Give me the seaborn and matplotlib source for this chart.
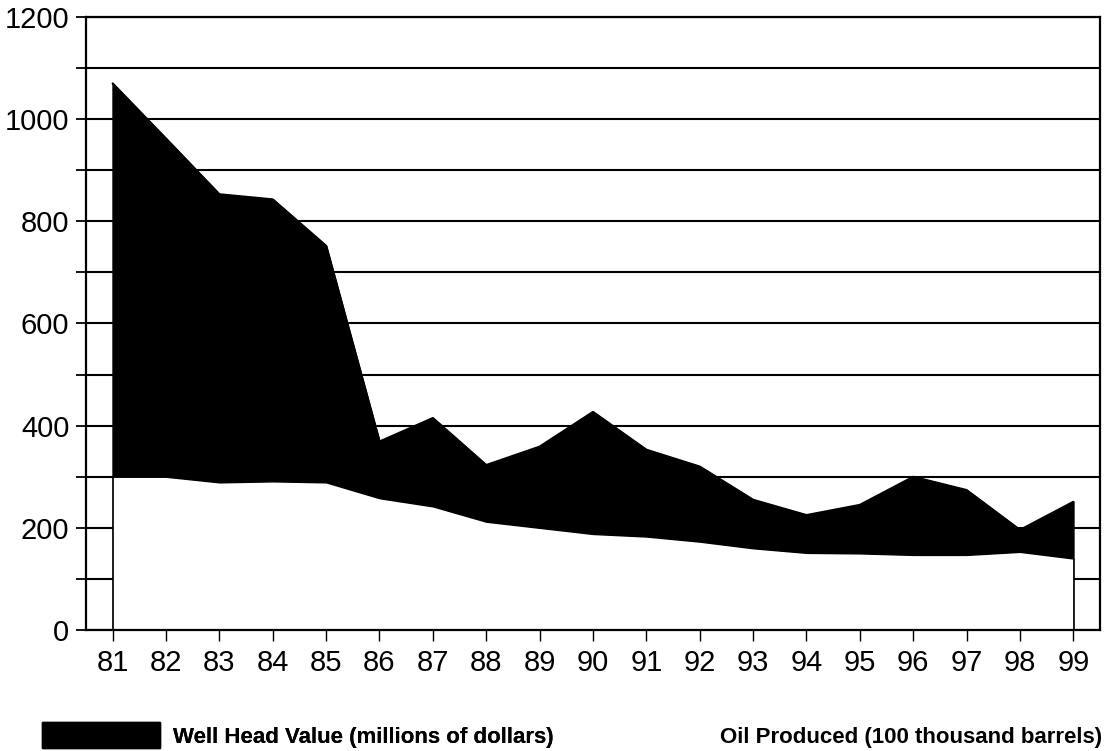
import matplotlib
matplotlib.use("Agg")
import matplotlib.pyplot as plt
from matplotlib.patches import Patch
from matplotlib.ticker import MultipleLocator
import numpy as np
import pandas as pd
import seaborn as sns

years = [81, 82, 83, 84, 85, 86, 87, 88, 89, 90, 91, 92, 93, 94, 95, 96, 97, 98, 99]
well_head = [1070, 962, 853, 843, 752, 369, 415, 323, 359, 427,
             353, 320, 255, 225, 245, 300, 274, 196, 251]
oil_produced = [300, 300, 289, 291, 289, 258, 242, 212, 200, 188,
                183, 173, 160, 151, 150, 147, 147, 153, 140]
year_labels = [str(y) for y in years]

well_label = "Well Head Value (millions of dollars)"
oil_label = "Oil Produced (100 thousand barrels)"

df = pd.DataFrame({"year": years, "well": well_head, "oil": oil_produced})

sns.set_style("white")
plt.rcParams["font.family"] = ["Liberation Sans", "DejaVu Sans"]
plt.rcParams["text.color"] = "black"

fig = plt.figure(figsize=(11.09, 7.51), dpi=100)
ax = fig.add_axes([0.0775, 0.1611, 0.9144, 0.8163])

# areas: black well head value, white oil production drawn on top of it
ax.fill_between(df["year"], 0, df["well"], facecolor="black", edgecolor="black", lw=1.2, zorder=1)
ax.fill_between(df["year"], 0, df["oil"], facecolor="white", edgecolor="black", lw=1.0, zorder=1.2)
sns.lineplot(data=df, x="year", y="well", color="black", lw=1.5, ax=ax, zorder=1.5)

ax.set_xlim(80.5, 99.5)
ax.set_ylim(0, 1200)
ax.set_xticks(years)
ax.set_xticklabels(year_labels)
ax.yaxis.set_major_locator(MultipleLocator(200))
ax.yaxis.set_minor_locator(MultipleLocator(100))
ax.set_xlabel("")
ax.set_ylabel("")

ax.set_axisbelow(True)
ax.grid(axis="y", which="both", color="black", lw=1.5)
ax.grid(axis="x", visible=False)

for s in ax.spines.values():
    s.set_visible(True)
    s.set_color("black")
    s.set_linewidth(1.6)

ax.tick_params(axis="y", which="both", direction="out", length=7, width=1.3,
               left=True, labelsize=21, pad=5, colors="black")
ax.tick_params(axis="x", which="major", direction="out", length=8, width=1.0,
               bottom=True, labelsize=21, pad=6, colors="black")

leg_props = {"weight": "bold", "size": 16}
leg1 = fig.legend(handles=[Patch(facecolor="black", edgecolor="black", label=well_label)],
                  loc="center left", bbox_to_anchor=(42 / 1109, 0.021), frameon=False,
                  prop=leg_props, handlelength=5.3, handleheight=1.45, handletextpad=0.6,
                  borderpad=0, borderaxespad=0, labelcolor="black")
leg2 = fig.legend(handles=[Patch(facecolor="white", edgecolor="white", label=oil_label)],
                  loc="center right", bbox_to_anchor=(1102 / 1109, 0.021), frameon=False,
                  prop=leg_props, handlelength=5.3, handleheight=1.45, handletextpad=0.6,
                  borderpad=0, borderaxespad=0, labelcolor="black")
fig.add_artist(leg1)

fig.savefig("out.png", dpi=100)
